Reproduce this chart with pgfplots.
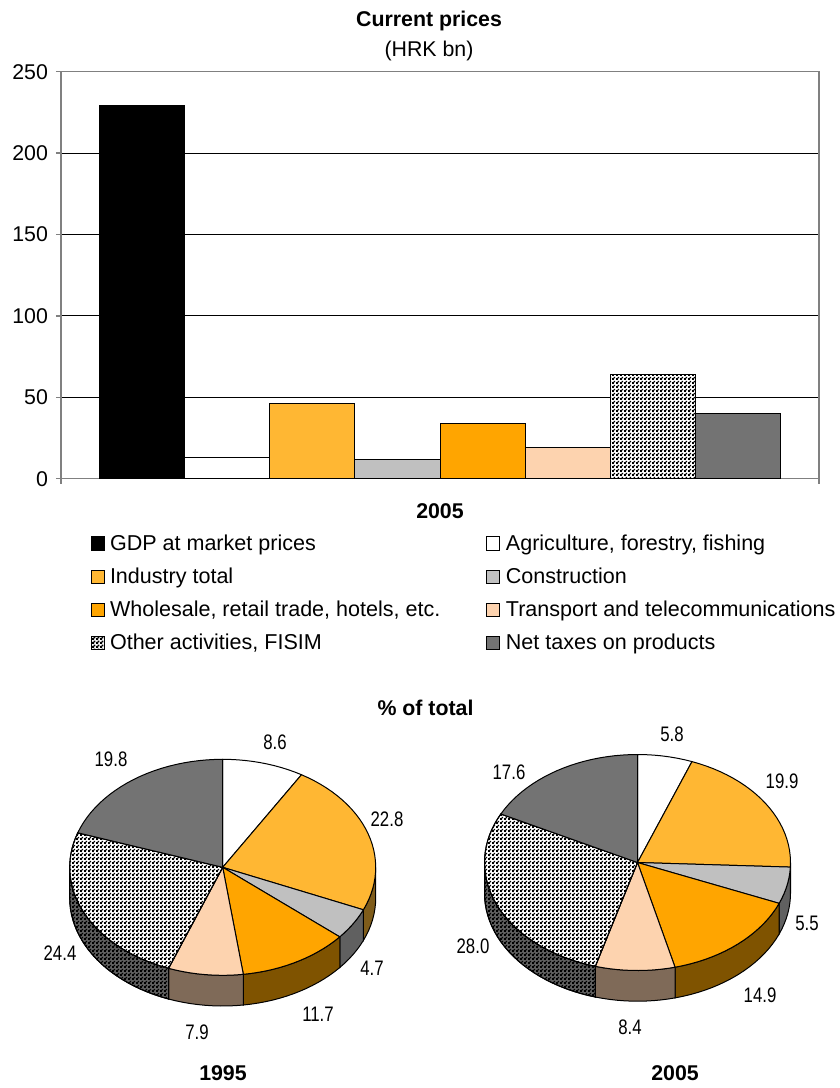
\documentclass[border=0pt]{standalone}
\usepackage{fontspec}
\setmainfont{Liberation Sans}
\usepackage{pgfplots}
\pgfplotsset{compat=1.18}
\usetikzlibrary{patterns}
\definecolor{cInd}{HTML}{FFB733}
\definecolor{cCon}{HTML}{C0C0C0}
\definecolor{cWho}{HTML}{FFA500}
\definecolor{cTra}{HTML}{FDD3AF}
\definecolor{cTax}{HTML}{737373}
\definecolor{sInd}{HTML}{7F5C1A}
\definecolor{sCon}{HTML}{606060}
\definecolor{sWho}{HTML}{7F5300}
\definecolor{sTra}{HTML}{7F6A58}
\definecolor{sTax}{HTML}{3A3A3A}
\definecolor{axgray}{HTML}{808080}
\pgfdeclarepatternformonly{checker}{\pgfqpoint{0pt}{0pt}}{\pgfqpoint{3pt}{3pt}}{\pgfqpoint{3pt}{3pt}}{%
  \pgfpathrectangle{\pgfqpoint{0pt}{0pt}}{\pgfqpoint{1.85pt}{1.85pt}}%
  \pgfpathrectangle{\pgfqpoint{1.5pt}{1.5pt}}{\pgfqpoint{1.5pt}{1.5pt}}%
  \pgfusepath{fill}}
\newcommand\fs{\fontsize{16}{22.5}\selectfont}
\tikzset{
  bb/.style={ybar,bar shift=0pt,bar width=1,draw=black,line width=.75pt},
  tAgr/.style={fill=white,draw=black,line width=.75pt},
  tInd/.style={fill=cInd,draw=black,line width=.75pt},
  tCon/.style={fill=cCon,draw=black,line width=.75pt},
  tWho/.style={fill=cWho,draw=black,line width=.75pt},
  tTra/.style={fill=cTra,draw=black,line width=.75pt},
  tOth/.style={fill=white,draw=black,line width=.75pt,postaction={pattern=checker,pattern color=black}},
  tTax/.style={fill=cTax,draw=black,line width=.75pt},
  kAgr/.style={fill=white,draw=black,line width=.75pt},
  kInd/.style={fill=sInd,draw=black,line width=.75pt},
  kCon/.style={fill=sCon,draw=black,line width=.75pt},
  kWho/.style={fill=sWho,draw=black,line width=.75pt},
  kTra/.style={fill=sTra,draw=black,line width=.75pt},
  kOth/.style={fill=sCon,draw=black,line width=.75pt,postaction={pattern=checker,pattern color=black}},
  kTax/.style={fill=sTax,draw=black,line width=.75pt},
  plab/.style={font=\fontsize{15.75}{18}\selectfont,xscale=.8,inner sep=0pt},
  blab/.style={font=\fs\bfseries,inner sep=0pt},
}
% arc from angle #3 to #4 (degrees clockwise from the top), ellipse centre #1,#2, in picture pixels
\def\rx{153}\def\ry{108}\def\dep{30.7}
\newcommand\buildarc[4]{%
  \gdef\ptsF{}\gdef\ptsR{}%
  \pgfmathtruncatemacro\nn{max(ceil(abs(#4-#3)/3),1)}%
  \foreach \ii in {0,...,\nn}{%
    \pgfmathsetmacro\aa{#3+(#4-#3)*\ii/\nn}%
    \pgfmathsetmacro\xx{#1+\rx*sin(\aa)}%
    \pgfmathsetmacro\yy{-#2+\ry*cos(\aa)}%
    \pgfmathsetmacro\yz{\yy-\dep}%
    \xdef\ptsF{\ptsF (\xx,\yy)}%
    \xdef\ptsR{(\xx,\yz) \ptsR}%
  }%
}
\newcommand\drawpie[4]{% cx, cy, sum of values, list value/top/side
  \gdef\cum{0}%
  \foreach \v/\st/\sd in {#4}{%
    \pgfmathsetmacro\aS{\cum/#3*360}%
    \pgfmathsetmacro\aE{(\cum+\v)/#3*360}%
    \pgfmathsetmacro\fS{max(\aS,90)}%
    \pgfmathsetmacro\fE{min(\aE,270)}%
    \pgfmathparse{\fE>\fS ? 1 : 0}%
    \ifdim\pgfmathresult pt>0.5pt
      \buildarc{#1}{#2}{\fS}{\fE}%
      \edef\tmp{\noexpand\addplot[\sd] coordinates {\ptsF\space\ptsR} -- cycle;}\tmp
    \fi
    \pgfmathsetmacro\nc{\cum+\v}\xdef\cum{\nc}%
  }%
  \gdef\cum{0}%
  \foreach \v/\st/\sd in {#4}{%
    \pgfmathsetmacro\aS{\cum/#3*360}%
    \pgfmathsetmacro\aE{(\cum+\v)/#3*360}%
    \buildarc{#1}{#2}{\aS}{\aE}%
    \pgfmathsetmacro\cyy{-#2}%
    \edef\tmp{\noexpand\addplot[\st] coordinates {(#1,\cyy) \ptsF} -- cycle;}\tmp
    \pgfmathsetmacro\nc{\cum+\v}\xdef\cum{\nc}%
  }%
}
\begin{document}
\begin{tikzpicture}
\path[use as bounding box] (0,0) rectangle (629.25pt,-816pt);
\begin{axis}[
  at={(45.75pt,-359pt)},anchor=south west,
  scale only axis,width=568.5pt,height=305.25pt,
  xmin=-0.95,xmax=7.95,ymin=0,ymax=250,
  xtick={-0.95,7.95},xticklabels={},
  ytick={0,50,100,150,200,250},
  ymajorgrids,grid style={black,line width=.75pt},
  tick align=outside,xtick pos=bottom,ytick pos=left,
  major tick length=3.75pt,
  tick style={axgray,line width=1pt},
  axis line style={axgray,line width=1.2pt},
  tick label style={font=\fs,/pgf/number format/assume math mode=true},
  yticklabel style={xshift=-2.5pt},
  title={\textbf{Current prices}\\(HRK bn)},
  title style={font=\fs,align=center,at={(0.4855,1)},anchor=south,yshift=-1pt,inner sep=3pt},
  xlabel={\textbf{2005}},
  xlabel style={font=\fs,at={(0.5,0)},anchor=center,yshift=-24.5pt},
  legend columns=2,
  legend cell align=left,
  legend style={at={(0.0395,-0.135)},anchor=north west,draw=none,fill=none,font=\fontsize{16.15}{18}\selectfont,
    /tikz/column 1/.style={column sep=3pt},
    /tikz/column 3/.style={column sep=4.2pt},
    /tikz/column 2/.style={column sep=33.3pt},row sep=10.4pt,inner sep=0pt,
    nodes={inner sep=0.6pt}},
  legend image code/.code={\draw[#1,line width=.75pt] (0pt,-4.9pt) rectangle (9.75pt,4.9pt);},
]
\addplot[bb,fill=black] coordinates {(0,229)};
\addplot[bb,fill=white] coordinates {(1,13)};
\addplot[bb,fill=cInd] coordinates {(2,46)};
\addplot[bb,fill=cCon] coordinates {(3,12)};
\addplot[bb,fill=cWho] coordinates {(4,34)};
\addplot[bb,fill=cTra] coordinates {(5,19)};
\addplot[bb,fill=white,postaction={pattern=checker,pattern color=black}] coordinates {(6,64)};
\addplot[bb,fill=cTax] coordinates {(7,40)};
\legend{GDP at market prices,{Agriculture, forestry, fishing},Industry total,Construction,{Wholesale, retail trade, hotels, etc.},Transport and telecommunications,{Other activities, FISIM},Net taxes on products}
\end{axis}
\begin{axis}[
  at={(0pt,-816pt)},anchor=south west,
  scale only axis,width=629.25pt,height=816pt,
  xmin=0,xmax=839,ymin=-1088,ymax=0,
  hide axis,clip=false,no markers,
]
\drawpie{222.7}{867.3}{99.9}{8.6/tAgr/kAgr,22.8/tInd/kInd,4.7/tCon/kCon,11.7/tWho/kWho,7.9/tTra/kTra,24.4/tOth/kOth,19.8/tTax/kTax}
\drawpie{637.5}{862.5}{100.1}{5.8/tAgr/kAgr,19.9/tInd/kInd,5.5/tCon/kCon,14.9/tWho/kWho,8.4/tTra/kTra,28.0/tOth/kOth,17.6/tTax/kTax}
\node[blab] at (axis cs:425.5,-708) {\% of total};
\node[blab] at (axis cs:223,-1073) {1995};
\node[blab] at (axis cs:675,-1073) {2005};
\node[plab] at (axis cs:275,-742) {8.6};
\node[plab] at (axis cs:387,-819) {22.8};
\node[plab] at (axis cs:372,-968) {4.7};
\node[plab] at (axis cs:318,-1014) {11.7};
\node[plab] at (axis cs:197,-1032) {7.9};
\node[plab] at (axis cs:60,-953) {24.4};
\node[plab] at (axis cs:111,-759) {19.8};
\node[plab] at (axis cs:672,-734) {5.8};
\node[plab] at (axis cs:782,-781) {19.9};
\node[plab] at (axis cs:807,-923) {5.5};
\node[plab] at (axis cs:760,-995) {14.9};
\node[plab] at (axis cs:630,-1027) {8.4};
\node[plab] at (axis cs:473,-946) {28.0};
\node[plab] at (axis cs:509,-772) {17.6};
\end{axis}
\end{tikzpicture}
\end{document}
